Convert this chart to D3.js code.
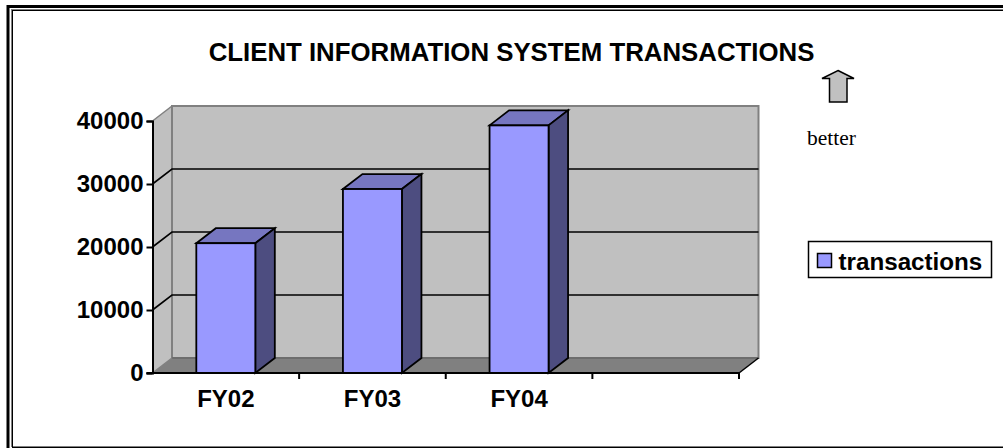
<!DOCTYPE html>
<html>
<head>
<meta charset="utf-8">
<script src="https://cdn.jsdelivr.net/npm/d3@7"></script>
<style>
html, body { margin: 0; padding: 0; background: #fff; overflow: hidden; }
text { font-family: "Liberation Sans", Arial, sans-serif; fill: #000; }
.tick-label { font-size: 24px; font-weight: bold; }
</style>
</head>
<body>
<script>
var chartTitle = "CLIENT INFORMATION SYSTEM TRANSACTIONS";
var seriesName = "transactions";
var categories = ["FY02", "FY03", "FY04", ""];
var values = [20600, 29200, 39300, null];
var yTicks = [0, 10000, 20000, 30000, 40000];

var width = 1003, height = 448;
// front plane of the 3d box, the back wall is shifted by depth
var plotLeft = 152.5, plotRight = 739, plotTop = 121, plotBottom = 373;
var depth = { x: 19.5, y: -15 };

var svg = d3.select("body").append("svg")
  .attr("width", width)
  .attr("height", height)
  .style("display", "block");

// double page border, runs off the right and bottom of the page
svg.append("rect").attr("x", 8).attr("y", 6.5).attr("width", 1100).attr("height", 470)
  .attr("fill", "none").attr("stroke", "#000").attr("stroke-width", 3);
svg.append("rect").attr("x", 11.5).attr("y", 9.5).attr("width", 1100).attr("height", 437)
  .attr("fill", "none").attr("stroke", "#808080").attr("stroke-width", 1);
svg.append("rect").attr("x", 12.5).attr("y", 10.5).attr("width", 1100).attr("height", 437)
  .attr("fill", "none").attr("stroke", "#000").attr("stroke-width", 1);

var x = d3.scaleBand().domain(categories).range([plotLeft, plotRight]);
var y = d3.scaleLinear().domain([0, 40000]).range([plotBottom, plotTop]);

function pts(a) {
  return a.map(function (p) { return p.join(","); }).join(" ");
}

// side wall
svg.append("polygon")
  .attr("points", pts([[plotLeft, y(0)], [plotLeft + depth.x, y(0) + depth.y], [plotLeft + depth.x, y(40000) + depth.y], [plotLeft, y(40000)]]))
  .attr("fill", "#c0c0c0");
// back wall
svg.append("rect")
  .attr("x", plotLeft + depth.x).attr("y", y(40000) + depth.y)
  .attr("width", plotRight - plotLeft).attr("height", y(0) - y(40000))
  .attr("fill", "#c0c0c0").attr("stroke", "#808080").attr("stroke-width", 2);
// floor
svg.append("polygon")
  .attr("points", pts([[plotLeft, y(0)], [plotLeft + depth.x, y(0) + depth.y], [plotRight + depth.x, y(0) + depth.y], [plotRight, y(0)]]))
  .attr("fill", "#808080");
svg.append("line")
  .attr("x1", plotLeft + depth.x).attr("x2", plotRight + depth.x)
  .attr("y1", y(0) + depth.y).attr("y2", y(0) + depth.y)
  .attr("stroke", "#5a5a5a").attr("stroke-width", 1);
svg.append("line")
  .attr("x1", plotLeft).attr("x2", plotLeft + depth.x)
  .attr("y1", y(0)).attr("y2", y(0) + depth.y)
  .attr("stroke", "#808080").attr("stroke-width", 1.5);
svg.append("line")
  .attr("x1", plotLeft).attr("x2", plotLeft + depth.x)
  .attr("y1", y(40000)).attr("y2", y(40000) + depth.y)
  .attr("stroke", "#808080").attr("stroke-width", 1.5);
svg.append("line")
  .attr("x1", plotRight).attr("x2", plotRight + depth.x)
  .attr("y1", y(0)).attr("y2", y(0) + depth.y)
  .attr("stroke", "#000").attr("stroke-width", 1.5);

// gridlines along side wall and back wall
yTicks.filter(function (d) { return d > 0 && d < 40000; }).forEach(function (d) {
  svg.append("polyline")
    .attr("points", pts([[plotLeft, y(d)], [plotLeft + depth.x, y(d) + depth.y], [plotRight + depth.x, y(d) + depth.y]]))
    .attr("fill", "none").attr("stroke", "#000").attr("stroke-width", 1.6);
});

// axes
var yAxis = d3.axisLeft(y).tickValues(yTicks).tickSize(6).tickPadding(3).tickFormat(d3.format("d"));
var gy = svg.append("g").attr("transform", "translate(" + plotLeft + ",0)").call(yAxis);
gy.selectAll("path").attr("stroke", "#000").attr("stroke-width", 2);
gy.selectAll("line").attr("stroke", "#000").attr("stroke-width", 2);
gy.selectAll("text").attr("class", "tick-label").attr("text-anchor", "end").attr("fill", "#000");

var barWidth = 59;
var bars = categories.map(function (c, i) { return { cat: c, value: values[i] }; })
  .filter(function (d) { return d.value !== null; });

var g = svg.selectAll(".bar").data(bars).enter().append("g").attr("class", "bar");
function bx(d) { return x(d.cat) + (x.bandwidth() - barWidth) / 2; }
g.append("polygon").attr("points", function (d) {
  var a = bx(d), t = y(d.value);
  return pts([[a, t], [a + depth.x, t + depth.y], [a + barWidth + depth.x, t + depth.y], [a + barWidth, t]]);
}).attr("fill", "#7676c0");
g.append("polygon").attr("points", function (d) {
  var a = bx(d) + barWidth, t = y(d.value);
  return pts([[a, t], [a + depth.x, t + depth.y], [a + depth.x, y(0) + depth.y], [a, y(0)]]);
}).attr("fill", "#4d4d80");
g.append("rect")
  .attr("x", bx).attr("y", function (d) { return y(d.value); })
  .attr("width", barWidth).attr("height", function (d) { return y(0) - y(d.value); })
  .attr("fill", "#9999ff");
g.selectAll("polygon, rect")
  .attr("stroke", "#000").attr("stroke-width", 1.8).attr("stroke-linejoin", "miter");

var xAxis = d3.axisBottom(x).tickSize(0).tickPadding(17);
var gx = svg.append("g").attr("transform", "translate(0," + plotBottom + ")").call(xAxis);
gx.select("path").remove();
gx.selectAll("text").attr("class", "tick-label").attr("fill", "#000");
svg.append("line").attr("x1", plotLeft - 6).attr("x2", plotRight).attr("y1", plotBottom).attr("y2", plotBottom)
  .attr("stroke", "#000").attr("stroke-width", 2);
// category ticks sit between the bands
svg.selectAll(".xtick").data(categories).enter().append("line").attr("class", "xtick")
  .attr("x1", function (d) { return x(d) + x.bandwidth(); })
  .attr("x2", function (d) { return x(d) + x.bandwidth(); })
  .attr("y1", plotBottom).attr("y2", plotBottom + 6)
  .attr("stroke", "#000").attr("stroke-width", 2);

// title
svg.append("text").attr("x", 511.5).attr("y", 60.5).attr("text-anchor", "middle")
  .style("font-size", "25.8px").style("font-weight", "bold").text(chartTitle);

// better arrow
var arrow = d3.path();
arrow.moveTo(838, 70.5);
arrow.lineTo(854, 78.5);
arrow.lineTo(847, 78.5);
arrow.lineTo(847, 102);
arrow.lineTo(829.5, 102);
arrow.lineTo(829.5, 78.5);
arrow.lineTo(822, 78.5);
arrow.closePath();
svg.append("path").attr("d", arrow.toString())
  .attr("fill", "#c0c0c0").attr("stroke", "#000").attr("stroke-width", 1.5);
svg.append("text").attr("x", 807).attr("y", 145)
  .style("font-family", "'Liberation Serif', 'Times New Roman', serif")
  .style("font-size", "21.5px").text("better");

// legend
svg.append("rect").attr("x", 808.5).attr("y", 241.5).attr("width", 183).attr("height", 36)
  .attr("fill", "#fff").attr("stroke", "#000").attr("stroke-width", 1.5);
svg.append("rect").attr("x", 817.5).attr("y", 253.5).attr("width", 14).attr("height", 14)
  .attr("fill", "#9999ff").attr("stroke", "#000").attr("stroke-width", 1.5);
svg.append("text").attr("x", 838.5).attr("y", 270)
  .style("font-size", "24.2px").style("font-weight", "bold").text(seriesName);
</script>
</body>
</html>
